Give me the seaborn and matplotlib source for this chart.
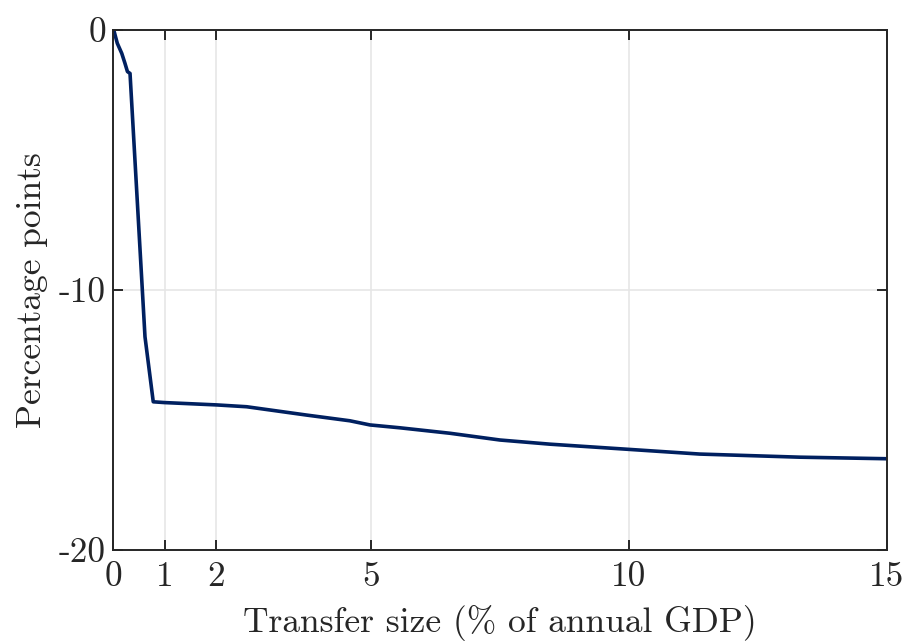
import matplotlib
matplotlib.use("Agg")
import matplotlib.pyplot as plt
import seaborn as sns
import pandas as pd

transfer_size = [0.0, 0.02, 0.083, 0.17, 0.23, 0.28, 0.33, 0.62, 0.78, 1.0, 2.01, 2.59,
                 3.75, 4.59, 4.98, 5.56, 6.53, 7.5, 8.47, 10.0, 11.37, 13.31, 15.0]
pp_change = [0.0, -0.04, -0.51, -0.9, -1.27, -1.6, -1.67, -11.8, -14.3, -14.33, -14.42, -14.49,
             -14.81, -15.03, -15.19, -15.30, -15.51, -15.77, -15.93, -16.13, -16.31, -16.43, -16.49]

x_ticks = [0, 1, 2, 5, 10, 15]
x_tick_labels = ["0", "1", "2", "5", "10", "15"]
y_ticks = [-20, -10, 0]
y_tick_labels = ["-20", "-10", "0"]

df = pd.DataFrame({"x": transfer_size, "y": pp_change})

sns.set_style("white")
plt.rcParams["font.family"] = ["cmr10", "DejaVu Serif"]
plt.rcParams["mathtext.fontset"] = "cm"

fig = plt.figure(figsize=(9.09, 6.42), dpi=100)
ax = fig.add_axes([113/909, 1-550/642, (887-113)/909, (550-30)/642])

sns.lineplot(data=df, x="x", y="y", ax=ax, color="#002060", linewidth=2.6, sort=False)

ax.set_xlim(0, 15)
ax.set_ylim(-20, 0)
ax.set_xticks(x_ticks)
ax.set_xticklabels(x_tick_labels)
ax.set_yticks(y_ticks)
ax.set_yticklabels(y_tick_labels)
ax.grid(True, color="#e6e6e6", linewidth=1.2)
ax.set_axisbelow(True)
for s in ax.spines.values():
    s.set_color("#262626")
    s.set_linewidth(1.4)
    s.set_visible(True)
ax.tick_params(direction="in", length=7, width=1.4, color="#262626",
               top=True, right=True, bottom=True, left=True,
               labelsize=25.5, labelcolor="#262626", pad=5)
ax.tick_params(axis="x", pad=8)
ax.set_xlabel("Transfer size (% of annual GDP)", fontsize=25.5, color="#262626", labelpad=9)
ax.set_ylabel("Percentage points", fontsize=25.5, color="#262626", labelpad=8)

fig.savefig("out.png", dpi=100)
